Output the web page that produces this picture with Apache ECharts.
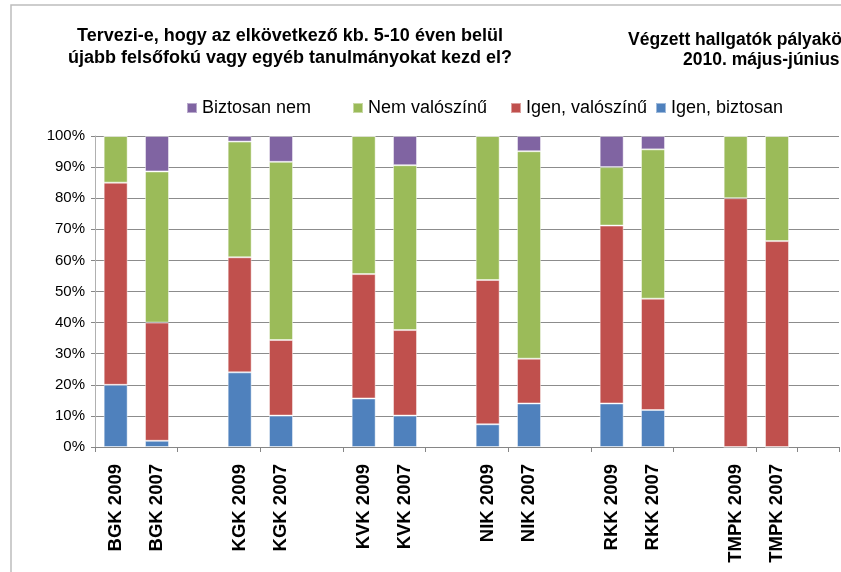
<!DOCTYPE html>
<html>
<head>
<meta charset="utf-8">
<script src="https://cdn.jsdelivr.net/npm/echarts@6/dist/echarts.min.js"></script>
<style>
    html, body { margin: 0; padding: 0; background: #fff; }
    #chart { width: 841px; height: 572px; }
</style>
</head>
<body>
<div id="chart"></div>
<script>
    // kategóriák (üres elemek = térköz a karok között)
    var categories = ['BGK 2009', 'BGK 2007', '', 'KGK 2009', 'KGK 2007', '',
        'KVK 2009', 'KVK 2007', '', 'NIK 2009', 'NIK 2007', '',
        'RKK 2009', 'RKK 2007', '', 'TMPK 2009', 'TMPK 2007', ''];

    var igenBiztosan   = [20, 2, null, 24, 10.1, null, 15.6, 10.1, null, 7.3, 14, null, 14, 11.9, null, 0, 0, null];
    var igenValoszinu  = [65, 38, null, 37, 24.3, null, 40, 27.5, null, 46.4, 14.4, null, 57.2, 35.8, null, 80, 66.2, null];
    var nemValoszinu   = [15, 48.6, null, 37.2, 57.3, null, 44.4, 53, null, 46.3, 66.7, null, 18.8, 48, null, 20, 33.8, null];
    var biztosanNem    = [0, 11.4, null, 1.8, 8.3, null, 0, 9.4, null, 0, 4.9, null, 10, 4.3, null, 0, 0, null];

    var yTicks = [0, 10, 20, 30, 40, 50, 60, 70, 80, 90, 100];
    var legendNames = ['Biztosan nem', 'Nem valószínű', 'Igen, valószínű', 'Igen, biztosan'];
    var legendLeft = [181, 347, 505, 650];

    var font = '"Liberation Sans", Arial, sans-serif';
    var chart = echarts.init(document.getElementById('chart'));

    function bar(name, data, color) {
        return {
            name: name,
            type: 'bar',
            stack: 'total',
            barWidth: '58%',
            data: data,
            itemStyle: {
                color: color,
                borderColor: 'rgba(255,255,255,0.45)',
                borderWidth: 1
            }
        };
    }

    // egy legenda elem = egy legend komponens, hogy a helyük pontos legyen
    var legends = legendNames.map(function (n, i) {
        return {
            data: [n],
            left: legendLeft[i],
            top: 94,
            icon: 'rect',
            itemWidth: 10,
            itemHeight: 10,
            itemGap: 4,
            textStyle: { fontFamily: font, fontSize: 18, color: '#000' }
        };
    });

    chart.setOption({
        animation: false,
        textStyle: { fontFamily: font },
        title: {
            text: 'Tervezi-e, hogy az elkövetkező kb. 5-10 éven belül\nújabb felsőfokú vagy egyéb tanulmányokat kezd el?',
            left: 285,
            top: 20,
            textAlign: 'center',
            textStyle: {
                fontFamily: font,
                fontSize: 18,
                fontWeight: 'bold',
                color: '#000',
                lineHeight: 22,
                align: 'center'
            }
        },
        graphic: [
            {
                type: 'rect',
                shape: { x: 11, y: 5, width: 900, height: 600 },
                style: { fill: 'none', stroke: '#bdbdbd', lineWidth: 1.5 },
                silent: true,
                z: -1
            },
            {
                type: 'text',
                left: 628,
                top: 31,
                style: { text: 'Végzett hallgatók pályakövetése', font: 'bold 17.5px ' + font, fill: '#000' }
            },
            {
                type: 'text',
                left: 683,
                top: 51,
                style: { text: '2010. május-június', font: 'bold 17.5px ' + font, fill: '#000' }
            }
        ],
        legend: legends,
        grid: {
            left: 95,
            right: 2,
            top: 136,
            bottom: 125,
            containLabel: false
        },
        xAxis: {
            type: 'category',
            data: categories,
            axisLine: { lineStyle: { color: '#868686', width: 1 } },
            axisTick: {
                show: true,
                interval: 1,
                length: 5,
                lineStyle: { color: '#868686' }
            },
            axisLabel: {
                interval: 0,
                rotate: 90,
                margin: 17,
                fontFamily: font,
                fontSize: 18.5,
                fontWeight: 'bold',
                color: '#000'
            }
        },
        yAxis: {
            type: 'value',
            min: 0,
            max: 100,
            interval: 10,
            axisLine: { show: true, lineStyle: { color: '#b0b0b0' } },
            axisTick: { show: true, length: 4, lineStyle: { color: '#868686' } },
            splitLine: { lineStyle: { color: '#8c8c8c', width: 1 } },
            axisLabel: {
                margin: 10,
                fontFamily: font,
                fontSize: 15,
                color: '#000',
                formatter: function (v) {
                    return yTicks.indexOf(v) >= 0 ? v + '%' : '';
                }
            }
        },
        series: [
            bar('Igen, biztosan', igenBiztosan, '#4F81BD'),
            bar('Igen, valószínű', igenValoszinu, '#C0504D'),
            bar('Nem valószínű', nemValoszinu, '#9BBB59'),
            bar('Biztosan nem', biztosanNem, '#8064A2')
        ]
    });
</script>
</body>
</html>
